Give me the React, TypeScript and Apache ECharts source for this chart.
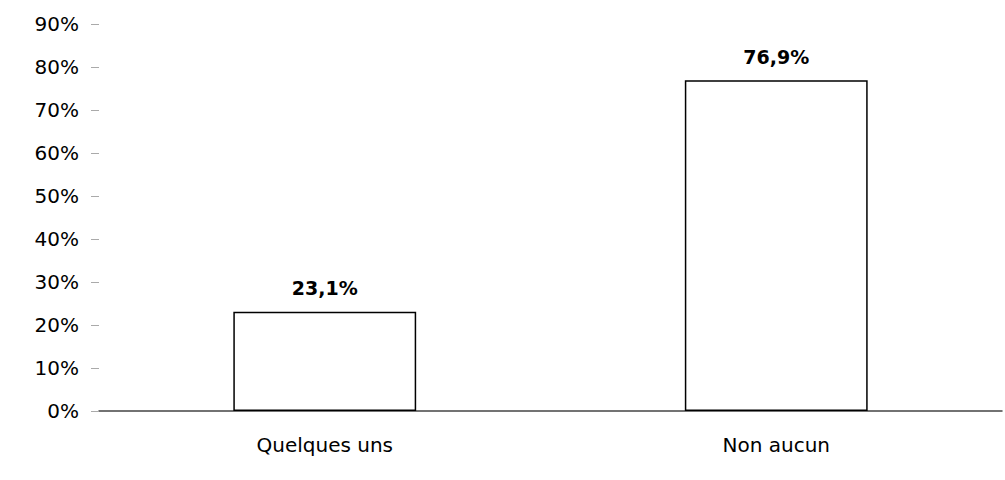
import React, { useEffect, useRef } from "react";
import * as echarts from "echarts";

const categories = ["Quelques uns", "Non aucun"];
const values = [23.1, 76.9];
const yMax = 90;
const yInterval = 10;

const FONT = "'DejaVu Sans', Verdana, sans-serif";

export default function App() {
  const ref = useRef<HTMLDivElement>(null);
  useEffect(() => {
    if (!ref.current) return;
    const chart = echarts.init(ref.current, undefined, { renderer: "svg" });
    chart.setOption({
      animation: false,
      backgroundColor: "#ffffff",
      grid: { left: 99, right: 3, top: 24, bottom: 69, containLabel: false },
      xAxis: {
        type: "category",
        data: categories,
        axisLine: { show: true, lineStyle: { color: "#444444", width: 1.5 } },
        axisTick: { show: false },
        axisLabel: { color: "#000000", fontSize: 20, fontFamily: FONT, margin: 24 },
      },
      yAxis: {
        type: "value",
        min: 0,
        max: yMax,
        interval: yInterval,
        axisLine: { show: false },
        axisTick: { show: true, length: 8, lineStyle: { color: "#aaaaaa", width: 1 } },
        splitLine: { show: false },
        axisLabel: {
          color: "#000000",
          fontSize: 20,
          fontFamily: FONT,
          margin: 20,
          formatter: (v: number) => `${v}%`,
        },
      },
      series: [
        {
          type: "bar",
          data: values,
          barWidth: "40.5%",
          itemStyle: { color: "#ffffff", borderColor: "#000000", borderWidth: 1.5 },
          label: {
            show: true,
            position: "top",
            distance: 14,
            color: "#000000",
            fontSize: 19,
            fontWeight: "bold",
            fontFamily: FONT,
            formatter: (p: any) => `${String(p.value).replace(".", ",")}%`,
          },
        },
      ],
    });
    return () => chart.dispose();
  }, []);
  return (
    <div
      ref={ref}
      style={{ position: "fixed", left: 0, top: 0, width: 1005, height: 480 }}
    />
  );
}
